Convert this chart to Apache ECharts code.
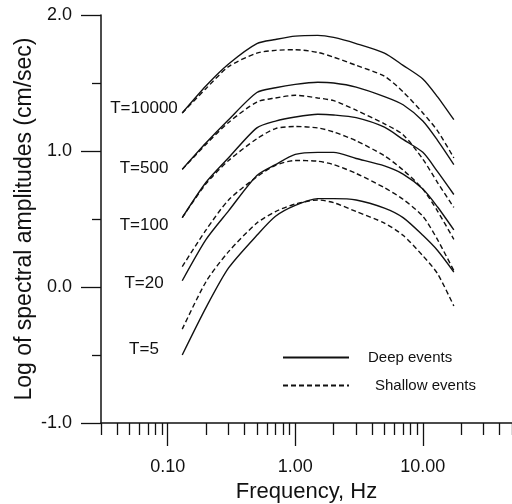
<!DOCTYPE html>
<html><head><meta charset="utf-8">
<script src="https://cdn.jsdelivr.net/npm/echarts@6/dist/echarts.min.js"></script>
<style>html,body{margin:0;padding:0;background:#fff}#c{width:512px;height:504px}</style>
</head><body><div id="c"></div>
<script>
// Frequencies (Hz) at which the spectra are read
const freqs = [0.13, 0.2, 0.3, 0.5, 0.7, 1.0, 1.5, 2.0, 3.0, 5.0, 7.0, 10.0, 13.0, 17.5];
// Log of spectral amplitudes, deep events (solid)
const deepT10000 = [1.28, 1.48, 1.64, 1.79, 1.82, 1.845, 1.85, 1.835, 1.79, 1.72, 1.63, 1.53, 1.40, 1.23];
const deepT500   = [0.865, 1.06, 1.23, 1.43, 1.465, 1.49, 1.505, 1.50, 1.47, 1.40, 1.34, 1.22, 1.08, 0.90];
const deepT100   = [0.51, 0.77, 0.95, 1.17, 1.22, 1.25, 1.27, 1.265, 1.245, 1.175, 1.085, 0.99, 0.85, 0.68];
const deepT20    = [0.046, 0.35, 0.56, 0.82, 0.90, 0.975, 0.99, 0.99, 0.945, 0.89, 0.83, 0.72, 0.59, 0.42];
const deepT5     = [-0.50, -0.15, 0.14, 0.38, 0.52, 0.60, 0.65, 0.65, 0.64, 0.58, 0.51, 0.38, 0.27, 0.11];
// Log of spectral amplitudes, shallow events (dashed)
const shallowT10000 = [1.28, 1.46, 1.62, 1.72, 1.74, 1.745, 1.725, 1.69, 1.63, 1.55, 1.435, 1.28, 1.15, 0.95];
const shallowT500   = [0.865, 1.05, 1.21, 1.36, 1.39, 1.41, 1.39, 1.37, 1.30, 1.20, 1.12, 0.94, 0.77, 0.585];
const shallowT100   = [0.51, 0.76, 0.93, 1.09, 1.165, 1.18, 1.17, 1.14, 1.075, 0.965, 0.86, 0.72, 0.56, 0.35];
const shallowT20    = [0.15, 0.42, 0.64, 0.81, 0.895, 0.93, 0.925, 0.90, 0.835, 0.73, 0.645, 0.52, 0.35, 0.12];
const shallowT5     = [-0.31, 0.04, 0.26, 0.47, 0.555, 0.61, 0.64, 0.62, 0.555, 0.47, 0.38, 0.23, 0.10, -0.14];
// Curve labels
const periodLabels = ['T=10000', 'T=500', 'T=100', 'T=20', 'T=5'];
// Axis ticks
const xMajorTicks = [0.1, 1, 10];
const xMinorTicks = [0.03, 0.04, 0.05, 0.06, 0.07, 0.08, 0.09,
  0.2, 0.3, 0.4, 0.5, 0.6, 0.7, 0.8, 0.9,
  2, 3, 4, 5, 6, 7, 8, 9, 20, 30, 40, 50];
const yTicks = [-1, 0, 1, 2];

const FONT = '"Liberation Sans", Arial, Helvetica, sans-serif';
const INK = '#111';

function pairs(vals) { return freqs.map((f, i) => [f, vals[i]]); }
function mk(name, vals, dashed) {
  return {
    type: 'line', name: name, data: pairs(vals), symbol: 'none', smooth: 0.25,
    xAxisIndex: 0, yAxisIndex: 0, silent: true,
    lineStyle: { color: INK, width: 1.4, type: dashed ? [5, 3] : 'solid' },
    itemStyle: { color: INK }
  };
}
const deepSets = [deepT10000, deepT500, deepT100, deepT20, deepT5];
const shallowSets = [shallowT10000, shallowT500, shallowT100, shallowT20, shallowT5];
const series = [];
deepSets.forEach(v => series.push(mk('Deep events', v, false)));
shallowSets.forEach(v => series.push(mk('Shallow events', v, true)));

const labelY = [108, 168, 225, 283, 349];
const graphics = periodLabels.map((t, i) => ({
  type: 'text', x: 144, y: labelY[i],
  style: { text: t, fill: INK, font: '17px ' + FONT, textAlign: 'center', textVerticalAlign: 'middle' }
}));

const chart = echarts.init(document.getElementById('c'), null, { renderer: 'canvas' });
chart.setOption({
  animation: false,
  backgroundColor: '#fff',
  grid: { left: 101, top: 15, right: 0, bottom: 81, containLabel: false, outerBoundsMode: 'none' },
  legend: {
    orient: 'vertical', left: 282, top: 350, itemWidth: 66, itemHeight: 14, itemGap: 13,
    padding: 0, selectedMode: false,
    itemStyle: { opacity: 0 },
    textStyle: { fontSize: 15, fontFamily: FONT, color: INK },
    data: [
      { name: 'Deep events', textStyle: { padding: [0, 0, 0, 14] } },
      { name: 'Shallow events', textStyle: { padding: [0, 0, 0, 21] } }
    ]
  },
  xAxis: [
    {
      type: 'log', logBase: 10, min: 0.03, max: 50, position: 'bottom',
      name: 'Frequency, Hz', nameLocation: 'middle', nameGap: 58, nameMoveOverlap: false,
      nameTextStyle: { fontSize: 22, fontFamily: FONT, color: INK },
      axisLine: { show: true, onZero: false, lineStyle: { color: INK, width: 1.5 } },
      axisTick: { show: true, inside: false, length: 23, customValues: xMajorTicks, lineStyle: { color: INK, width: 1.3 } },
      axisLabel: { show: true, customValues: xMajorTicks, margin: 35, fontSize: 18, fontFamily: FONT, color: INK,
        formatter: v => Number(v).toFixed(2) },
      splitLine: { show: false }, minorTick: { show: false }
    },
    {
      type: 'log', logBase: 10, min: 0.03, max: 50, position: 'bottom',
      axisLine: { show: false, onZero: false },
      axisTick: { show: true, inside: false, length: 12, customValues: xMinorTicks, lineStyle: { color: INK, width: 1.3 } },
      axisLabel: { show: false },
      splitLine: { show: false }
    }
  ],
  yAxis: {
    type: 'value', min: -1, max: 2, interval: 1,
    name: 'Log of spectral amplitudes (cm/sec)', nameLocation: 'middle', nameGap: 65, nameRotate: 90,
    nameMoveOverlap: false,
    nameTextStyle: { fontSize: 23, fontFamily: FONT, color: INK },
    axisLine: { show: true, onZero: false, lineStyle: { color: INK, width: 1.5 } },
    axisTick: { show: true, inside: false, length: 20, lineStyle: { color: INK, width: 1.3 } },
    minorTick: { show: true, splitNumber: 2, length: 9, lineStyle: { color: INK, width: 1.3 } },
    axisLabel: { margin: 29, fontSize: 18, fontFamily: FONT, color: INK, formatter: v => Number(v).toFixed(1) },
    splitLine: { show: false }
  },
  graphic: graphics,
  series: series
});
</script>
</body></html>
